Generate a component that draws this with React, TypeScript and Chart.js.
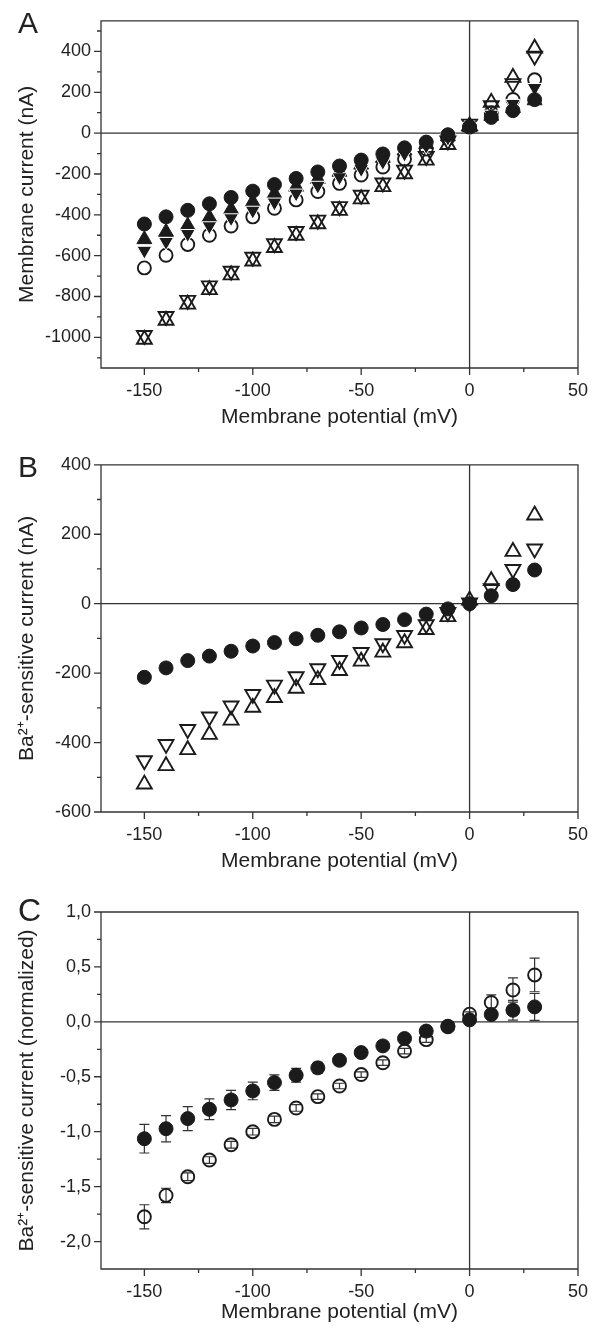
import React, { useEffect, useRef } from 'react';
import { Chart, registerables } from 'chart.js';

Chart.register(...registerables);

// ---------------- data ----------------
const volts = [-150, -140, -130, -120, -110, -100, -90, -80, -70, -60, -50, -40, -30, -20, -10, 0, 10, 20, 30];

// Panel A (membrane current, nA)
const aFilledCircle = [-445, -410, -378, -346, -315, -284, -252, -222, -190, -161, -132, -102, -72, -44, -8, 30, 77, 110, 164];
const aFilledUp = [-520, -484, -453, -413, -373, -337, -297, -263, -225, -190, -155, -122, -86, -54, -16, 28, 84, 122, 160];
const aFilledDown = [-575, -532, -493, -455, -416, -379, -339, -295, -257, -215, -175, -140, -100, -62, -22, 32, 91, 144, 222];
const aOpenCircle = [-660, -598, -545, -500, -455, -410, -368, -327, -286, -246, -205, -166, -127, -78, -25, 30, 100, 165, 261];
const aOpenUp = [-1010, -917, -838, -767, -695, -627, -561, -501, -445, -379, -323, -263, -200, -133, -57, 35, 150, 272, 415];
const aOpenDown = [-990, -897, -818, -747, -675, -607, -541, -481, -425, -359, -303, -243, -180, -113, -37, 45, 135, 243, 378];

// Panel B (Ba2+-sensitive current, nA)
const bFilledCircle = [-212, -185, -164, -151, -137, -122, -112, -101, -91, -81, -70, -60, -46, -30, -15, 0, 23, 55, 97];
const bOpenUp = [-520, -467, -421, -377, -336, -299, -271, -244, -219, -193, -166, -140, -113, -75, -38, 10, 66, 150, 255];
const bOpenDown = [-452, -405, -362, -326, -294, -261, -234, -210, -187, -163, -140, -115, -91, -60, -25, 3, 44, 99, 158];

// Panel C (normalized) with error bars
const cFilled = [-1.064, -0.973, -0.881, -0.796, -0.711, -0.629, -0.553, -0.486, -0.419, -0.35, -0.28, -0.219, -0.152, -0.084, -0.04, 0.018, 0.067, 0.106, 0.136];
const cFilledErr = [0.13, 0.12, 0.11, 0.095, 0.088, 0.08, 0.07, 0.062, 0.05, 0.04, 0.035, 0.03, 0.03, 0.03, 0.025, 0.02, 0.035, 0.09, 0.122];
const cOpen = [-1.775, -1.58, -1.41, -1.258, -1.119, -1.0, -0.888, -0.784, -0.681, -0.584, -0.48, -0.372, -0.266, -0.162, -0.045, 0.07, 0.176, 0.29, 0.427];
const cOpenErr = [0.11, 0.065, 0.035, 0.03, 0.03, 0.03, 0.03, 0.03, 0.025, 0.025, 0.025, 0.025, 0.025, 0.025, 0.02, 0.02, 0.07, 0.11, 0.153];

// ticks
const xMajorTicks = [-150, -100, -50, 0, 50];
const xMinorTicks = [-125, -75, -25, 25];
const aYMajorTicks = [400, 200, 0, -200, -400, -600, -800, -1000];
const aYMinorTicks = [500, 300, 100, -100, -300, -500, -700, -900, -1100];
const bYMajorTicks = [400, 200, 0, -200, -400, -600];
const bYMinorTicks = [300, 100, -100, -300, -500];
const cYMajorTicks = [1.0, 0.5, 0, -0.5, -1.0, -1.5, -2.0];
const cYTickLabels = ['1,0', '0,5', '0,0', '-0,5', '-1,0', '-1,5', '-2,0'];
const cYMinorTicks = [0.75, 0.25, -0.25, -0.75, -1.25, -1.75];

// ---------------- styling ----------------
const FONT = "'Liberation Sans', Arial, Helvetica, sans-serif";
const INK = '#1b1b1b';
const AXIS = '#333333';
const TEXT = '#222222';

const pts = (ys: number[]) => volts.map((v, i) => ({ x: v, y: ys[i] }));

const filledCircle = (ys: number[]) => ({
  data: pts(ys), pointStyle: 'circle', pointRadius: 7,
  pointBackgroundColor: INK, pointBorderColor: INK, pointBorderWidth: 1,
});
const openCircle = (ys: number[]) => ({
  data: pts(ys), pointStyle: 'circle', pointRadius: 6.5,
  pointBackgroundColor: 'rgba(0,0,0,0)', pointBorderColor: INK, pointBorderWidth: 1.9,
});
const openTri = (ys: number[], rot: number) => ({
  data: pts(ys), pointStyle: 'triangle', pointRadius: 8.6, pointRotation: rot,
  pointBackgroundColor: 'rgba(0,0,0,0)', pointBorderColor: INK, pointBorderWidth: 1.9,
});
const filledTri = (ys: number[], rot: number, border: string) => ({
  data: pts(ys), pointStyle: 'triangle', pointRadius: 8.6, pointRotation: rot,
  pointBackgroundColor: INK, pointBorderColor: border, pointBorderWidth: 1,
});

type ErrSeries = { values: number[]; errs: number[] };

type PanelSpec = {
  letter: string;
  letterSize: number;
  yTitle: string;
  yMin: number;
  yMax: number;
  yMajor: number[];
  yMinor: number[];
  yLabel: (v: number, i: number) => string;
  padTop: number;
  padBottom: number;
  xHeight: number;
  height: number;
  datasets: any[];
  errors?: ErrSeries[];
};

function framePlugin(p: PanelSpec) {
  return {
    id: 'frame' + p.letter,
    beforeDatasetsDraw(chart: any) {
      const { ctx, chartArea: ca } = chart;
      const x = chart.scales.x;
      const y = chart.scales.y;
      ctx.save();
      ctx.strokeStyle = AXIS;
      ctx.lineWidth = 1.3;
      ctx.beginPath();
      const x0 = x.getPixelForValue(0);
      const y0 = y.getPixelForValue(0);
      ctx.moveTo(ca.left, y0);
      ctx.lineTo(ca.right, y0);
      ctx.moveTo(x0, ca.top);
      ctx.lineTo(x0, ca.bottom);
      ctx.rect(ca.left, ca.top, ca.right - ca.left, ca.bottom - ca.top);
      const xt = (vals: number[], len: number) => vals.forEach((v) => {
        const px = x.getPixelForValue(v);
        ctx.moveTo(px, ca.bottom);
        ctx.lineTo(px, ca.bottom + len);
      });
      const yt = (vals: number[], len: number) => vals.forEach((v) => {
        const py = y.getPixelForValue(v);
        ctx.moveTo(ca.left, py);
        ctx.lineTo(ca.left - len, py);
      });
      xt(xMajorTicks, 7);
      xt(xMinorTicks, 4);
      yt(p.yMajor, 7);
      yt(p.yMinor, 4);
      ctx.stroke();

      if (p.errors) {
        ctx.strokeStyle = AXIS;
        ctx.lineWidth = 1.2;
        ctx.beginPath();
        p.errors.forEach((s) => {
          volts.forEach((v, i) => {
            const px = x.getPixelForValue(v);
            const hi = y.getPixelForValue(s.values[i] + s.errs[i]);
            const lo = y.getPixelForValue(s.values[i] - s.errs[i]);
            ctx.moveTo(px, hi);
            ctx.lineTo(px, lo);
            ctx.moveTo(px - 5, hi);
            ctx.lineTo(px + 5, hi);
            ctx.moveTo(px - 5, lo);
            ctx.lineTo(px + 5, lo);
          });
        });
        ctx.stroke();
      }
      ctx.restore();
    },
    afterDraw(chart: any) {
      const { ctx } = chart;
      ctx.save();
      ctx.fillStyle = TEXT;
      ctx.font = `${p.letterSize}px ${FONT}`;
      ctx.textAlign = 'left';
      ctx.textBaseline = 'alphabetic';
      ctx.fillText(p.letter, 18, 33);
      ctx.restore();
    },
  };
}

function buildConfig(p: PanelSpec): any {
  return {
    type: 'scatter',
    data: { datasets: p.datasets },
    options: {
      animation: false,
      responsive: false,
      maintainAspectRatio: false,
      events: [],
      layout: { padding: { left: 0, right: 17, top: p.padTop, bottom: p.padBottom } },
      plugins: { legend: { display: false }, tooltip: { enabled: false } },
      scales: {
        x: {
          type: 'linear',
          min: -170,
          max: 50,
          afterBuildTicks: (s: any) => { s.ticks = xMajorTicks.map((v) => ({ value: v })); },
          afterFit: (s: any) => { s.height = p.xHeight; },
          grid: { display: false, drawTicks: false },
          border: { display: false },
          ticks: {
            padding: 12, autoSkip: false, maxRotation: 0, color: TEXT,
            font: { size: 18, family: FONT },
            callback: (v: any) => String(v),
          },
          title: {
            display: true, text: 'Membrane potential (mV)', color: TEXT,
            font: { size: 21, family: FONT }, padding: { top: 0, bottom: 0 },
          },
        },
        y: {
          type: 'linear',
          min: p.yMin,
          max: p.yMax,
          afterBuildTicks: (s: any) => { s.ticks = p.yMajor.map((v) => ({ value: v })); },
          afterFit: (s: any) => { s.width = 101; },
          grid: { display: false, drawTicks: false },
          border: { display: false },
          ticks: {
            padding: 10, autoSkip: false, color: TEXT,
            font: { size: 18, family: FONT },
            callback: (v: any, i: number) => p.yLabel(v, i),
          },
          title: {
            display: true, text: p.yTitle, color: TEXT,
            font: { size: 21, family: FONT }, padding: { top: 15, bottom: 0 },
          },
        },
      },
    },
    plugins: [framePlugin(p)],
  };
}

const panels: { spec: PanelSpec; top: number }[] = [
  {
    top: 0,
    spec: {
      letter: 'A', letterSize: 30,
      yTitle: 'Membrane current (nA)',
      yMin: -1150, yMax: 550,
      yMajor: aYMajorTicks, yMinor: aYMinorTicks,
      yLabel: (v) => String(v),
      padTop: 11, padBottom: 14, xHeight: 62, height: 444,
      datasets: [
        filledCircle(aFilledCircle),
        filledTri(aFilledDown, 180, '#ffffff'),
        filledTri(aFilledUp, 0, INK),
        openCircle(aOpenCircle),
        openTri(aOpenDown, 180),
        openTri(aOpenUp, 0),
      ],
    },
  },
  {
    top: 444,
    spec: {
      letter: 'B', letterSize: 30,
      yTitle: 'Ba\u00B2\u207A-sensitive current (nA)',
      yMin: -600, yMax: 400,
      yMajor: bYMajorTicks, yMinor: bYMinorTicks,
      yLabel: (v) => String(v),
      padTop: 11, padBottom: 14, xHeight: 62, height: 444,
      datasets: [
        filledCircle(bFilledCircle),
        openTri(bOpenUp, 0),
        openTri(bOpenDown, 180),
      ],
    },
  },
  {
    top: 888,
    spec: {
      letter: 'C', letterSize: 32,
      yTitle: 'Ba\u00B2\u207A-sensitive current (normalized)',
      yMin: -2.25, yMax: 1.0,
      yMajor: cYMajorTicks, yMinor: cYMinorTicks,
      yLabel: (_v, i) => cYTickLabels[i],
      padTop: 24, padBottom: 6, xHeight: 56, height: 443,
      datasets: [
        filledCircle(cFilled),
        openCircle(cOpen),
      ],
      errors: [
        { values: cFilled, errs: cFilledErr },
        { values: cOpen, errs: cOpenErr },
      ],
    },
  },
];

function Panel({ spec, top }: { spec: PanelSpec; top: number }) {
  const ref = useRef<HTMLCanvasElement | null>(null);
  useEffect(() => {
    if (!ref.current) return;
    const chart = new Chart(ref.current, buildConfig(spec));
    return () => chart.destroy();
  }, [spec]);
  return (
    <canvas
      ref={ref}
      width={600}
      height={spec.height}
      style={{ position: 'absolute', left: 0, top, width: 600, height: spec.height, display: 'block' }}
    />
  );
}

export default function App() {
  return (
    <div style={{ position: 'absolute', left: 0, top: 0, width: 600, height: 1331, background: '#ffffff', overflow: 'hidden' }}>
      {panels.map((p) => (
        <Panel key={p.spec.letter} spec={p.spec} top={p.top} />
      ))}
    </div>
  );
}
